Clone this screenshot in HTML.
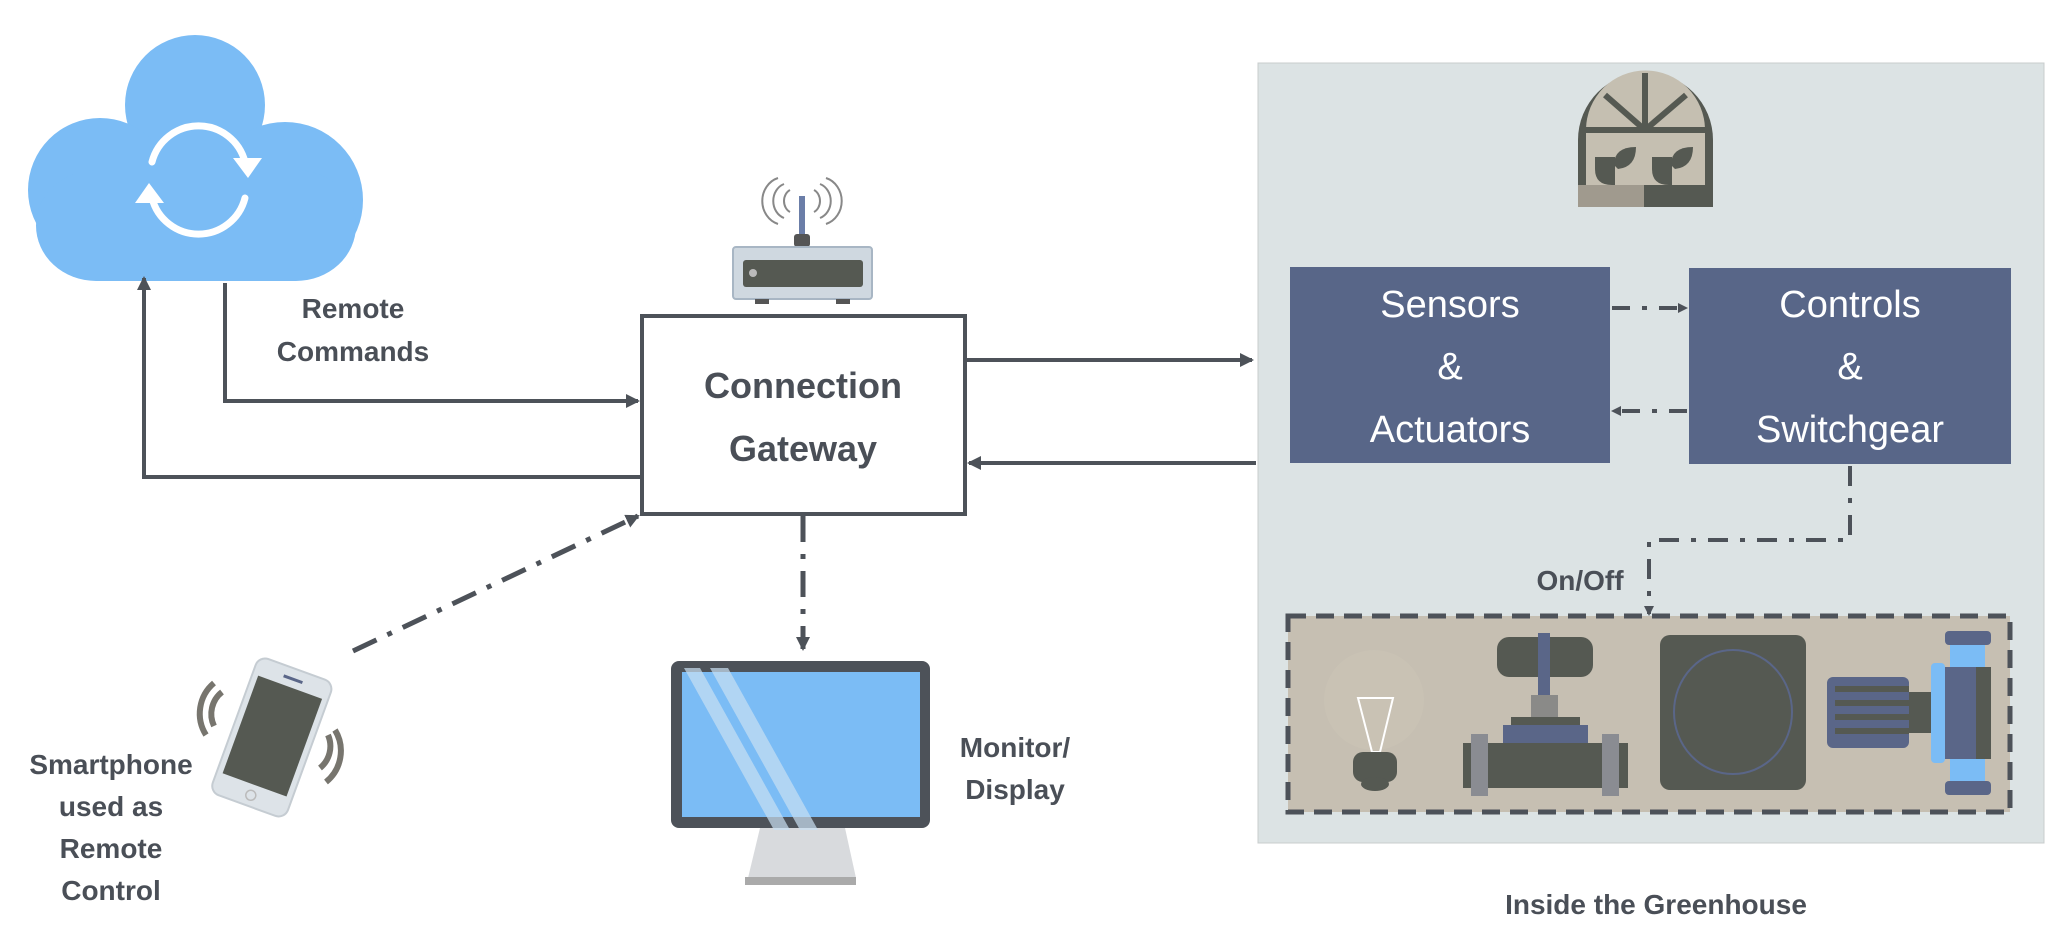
<!DOCTYPE html>
<html><head><meta charset="utf-8"><style>
html,body{margin:0;padding:0;background:#fff;}
svg{display:block}
text{font-family:"Liberation Sans",sans-serif;}
</style></head><body>
<svg width="2048" height="943" viewBox="0 0 2048 943" xmlns="http://www.w3.org/2000/svg">
<defs>
<marker id="ah" markerWidth="10" markerHeight="10" refX="8" refY="5" orient="auto" markerUnits="userSpaceOnUse" viewBox="0 0 10 10">
<path d="M0,0 L10,5 L0,10 z" fill="#4d5259"/></marker>
<marker id="ah2" markerWidth="14" markerHeight="14" refX="12" refY="7" orient="auto" markerUnits="userSpaceOnUse" viewBox="0 0 14 14">
<path d="M0,0 L14,7 L0,14 z" fill="#4d5259"/></marker>
</defs>

<!-- Cloud -->
<g fill="#7bbcf5">
<circle cx="195" cy="105" r="70"/>
<circle cx="100" cy="190" r="72"/>
<circle cx="285" cy="200" r="78"/>
<rect x="100" y="150" width="190" height="131"/>
<rect x="36" y="170" width="320" height="111" rx="60"/>
</g>
<g fill="none" stroke="#fff" stroke-width="7" stroke-linecap="round">
<path d="M152,162 A48,48 0 0 1 245,162"/>
<path d="M245,198 A48,48 0 0 1 152,198"/>
</g>
<path d="M233,158 L262,158 L248,178 z" fill="#fff"/>
<path d="M164,203 L135,203 L149,183 z" fill="#fff"/>

<!-- Router -->
<g>
<rect x="799" y="196" width="6" height="42" fill="#6b7ea8"/>
<rect x="794" y="234" width="16" height="13" rx="3" fill="#555"/>
<rect x="733" y="247" width="139" height="52" rx="3" fill="#cfd8e0" stroke="#a8b6c4" stroke-width="2"/>
<rect x="743" y="260" width="120" height="27" rx="3" fill="#555952"/>
<circle cx="753" cy="273" r="4" fill="#bbb"/>
<rect x="755" y="299" width="14" height="5" fill="#555"/>
<rect x="836" y="299" width="14" height="5" fill="#555"/>
<g fill="none" stroke="#888" stroke-width="2">
<path d="M790,190 a10,12 0 0 0 0,22"/><path d="M784,184 a16,18 0 0 0 0,34"/><path d="M778,178 a22,24 0 0 0 0,46"/>
<path d="M814,190 a10,12 0 0 1 0,22"/><path d="M820,184 a16,18 0 0 1 0,34"/><path d="M826,178 a22,24 0 0 1 0,46"/>
</g>
</g>

<!-- Gateway -->
<rect x="642" y="316" width="323" height="198" fill="#fff" stroke="#4d5259" stroke-width="4"/>
<text x="803" y="398" font-size="36" font-weight="bold" fill="#4a4f57" text-anchor="middle">Connection</text>
<text x="803" y="461" font-size="36" font-weight="bold" fill="#4a4f57" text-anchor="middle">Gateway</text>

<!-- Remote commands -->
<text x="353" y="318" font-size="28" font-weight="bold" fill="#4a4f57" text-anchor="middle">Remote</text>
<text x="353" y="361" font-size="28" font-weight="bold" fill="#4a4f57" text-anchor="middle">Commands</text>
<path d="M225,283 L225,401 L638,401" fill="none" stroke="#4d5259" stroke-width="4" marker-end="url(#ah2)"/>
<path d="M642,477 L144,477 L144,278" fill="none" stroke="#4d5259" stroke-width="4" marker-end="url(#ah2)"/>

<!-- Phone dashed -->
<path d="M353,651 L638,516" fill="none" stroke="#4d5259" stroke-width="5" stroke-dasharray="26,12,5,12" marker-end="url(#ah2)"/>
<!-- Monitor dashed -->
<path d="M803,516 L803,649" fill="none" stroke="#4d5259" stroke-width="5" stroke-dasharray="26,12,5,12" marker-end="url(#ah2)"/>

<!-- Monitor -->
<path d="M760,828 L845,828 L856,878 L748,878 z" fill="#d8dadd"/>
<rect x="745" y="877" width="111" height="8" fill="#aaa"/>
<rect x="671" y="661" width="259" height="167" rx="8" fill="#4d5259"/>
<rect x="682" y="672" width="238" height="145" fill="#7bbcf5"/>
<path d="M684,668 L700,668 L790,830 L774,830 z" fill="#c9dff2" opacity="0.7"/>
<path d="M710,668 L728,668 L818,830 L800,830 z" fill="#c9dff2" opacity="0.7"/>
<text x="1015" y="757" font-size="28" font-weight="bold" fill="#4a4f57" text-anchor="middle">Monitor/</text>
<text x="1015" y="799" font-size="28" font-weight="bold" fill="#4a4f57" text-anchor="middle">Display</text>

<!-- Phone -->
<g transform="rotate(20 272 737)">
<rect x="232" y="665" width="80" height="145" rx="10" fill="#dde3e8" stroke="#c5ccd2" stroke-width="2"/>
<rect x="238" y="684" width="68" height="104" fill="#555952"/>
<rect x="262" y="674" width="20" height="3" fill="#5a6688"/>
<circle cx="272" cy="799" r="5" fill="none" stroke="#bbb" stroke-width="1.5"/>
</g>
<g fill="none" stroke="#77756e" stroke-width="6">
<path d="M214,683 A40,40 0 0 0 206,735"/>
<path d="M222,692 A28,28 0 0 0 214,726"/>
<path d="M335,730 A40,40 0 0 1 326,782"/>
<path d="M328,735 A28,28 0 0 1 320,768"/>
</g>
<text x="111" y="774" font-size="28" font-weight="bold" fill="#4a4f57" text-anchor="middle">Smartphone</text>
<text x="111" y="816" font-size="28" font-weight="bold" fill="#4a4f57" text-anchor="middle">used as</text>
<text x="111" y="858" font-size="28" font-weight="bold" fill="#4a4f57" text-anchor="middle">Remote</text>
<text x="111" y="900" font-size="28" font-weight="bold" fill="#4a4f57" text-anchor="middle">Control</text>

<!-- Greenhouse panel -->
<rect x="1258" y="63" width="786" height="780" fill="#dce3e4" stroke="#c8cccd" stroke-width="1"/>

<!-- Greenhouse icon -->
<g>
<path d="M1578,207 L1578,140 A67,67 0 0 1 1713,140 L1713,207 z" fill="#555952"/>
<path d="M1586,130 A59,59 0 0 1 1705,130 z" fill="#c5bfb1"/>
<rect x="1586" y="130" width="119" height="58" fill="#c5bfb1"/>
<g stroke="#555952" stroke-width="6"><line x1="1645" y1="73" x2="1645" y2="130"/><line x1="1645" y1="130" x2="1605" y2="95"/><line x1="1645" y1="130" x2="1686" y2="95"/><line x1="1580" y1="130" x2="1710" y2="130"/></g>
<rect x="1578" y="185" width="135" height="22" fill="#555952"/>
<rect x="1578" y="185" width="66" height="22" fill="#a09a8e"/>
<path d="M1595,157 h20 v28 h-3 q-17,0 -17,-16 z" fill="#555952"/>
<path d="M1614,165 q0,-18 22,-18 q0,20 -18,22 z" fill="#555952"/>
<path d="M1652,157 h20 v28 h-3 q-17,0 -17,-16 z" fill="#555952"/>
<path d="M1671,165 q0,-18 22,-18 q0,20 -18,22 z" fill="#555952"/>
</g>

<!-- arrows gateway<->panel -->
<path d="M965,360 L1252,360" fill="none" stroke="#4d5259" stroke-width="4" marker-end="url(#ah2)"/>
<path d="M1256,463 L969,463" fill="none" stroke="#4d5259" stroke-width="4" marker-end="url(#ah2)"/>

<!-- Sensors / Controls -->
<rect x="1290" y="267" width="320" height="196" fill="#586688"/>
<rect x="1689" y="268" width="322" height="196" fill="#586688"/>
<g font-size="38" fill="#fff" text-anchor="middle">
<text x="1450" y="317">Sensors</text><text x="1450" y="379">&amp;</text><text x="1450" y="442">Actuators</text>
<text x="1850" y="317">Controls</text><text x="1850" y="379">&amp;</text><text x="1850" y="442">Switchgear</text>
</g>
<path d="M1612,308 L1686,308" fill="none" stroke="#4d5259" stroke-width="4" stroke-dasharray="18,12,5,12" marker-end="url(#ah)"/>
<path d="M1687,411 L1613,411" fill="none" stroke="#4d5259" stroke-width="4" stroke-dasharray="18,12,5,12" marker-end="url(#ah)"/>
<path d="M1850,466 L1850,540 L1649,540 L1649,614" fill="none" stroke="#4d5259" stroke-width="4" stroke-dasharray="20,12,5,12" marker-end="url(#ah)"/>
<text x="1580" y="590" font-size="28" font-weight="bold" fill="#4a4f57" text-anchor="middle">On/Off</text>

<!-- Equipment box -->
<rect x="1288" y="616" width="722" height="196" fill="#c6bfb2" stroke="#4d5259" stroke-width="5" stroke-dasharray="18,10"/>
<!-- bulb -->
<circle cx="1374" cy="700" r="50" fill="#c9c2b4"/>
<path d="M1358,698 L1393,698 L1380,752 L1372,752 z" fill="none" stroke="#fff" stroke-width="2"/>
<rect x="1353" y="752" width="44" height="30" rx="10" fill="#555952"/>
<ellipse cx="1375" cy="784" rx="14" ry="7" fill="#555952"/>
<!-- valve -->
<rect x="1497" y="637" width="96" height="40" rx="12" fill="#555952"/>
<rect x="1538" y="633" width="12" height="62" fill="#5a6688"/>
<rect x="1531" y="695" width="27" height="22" fill="#8a8a88"/>
<rect x="1511" y="717" width="69" height="9" fill="#555952"/>
<rect x="1503" y="725" width="85" height="18" fill="#5a6688"/>
<rect x="1463" y="743" width="165" height="45" fill="#555952"/>
<rect x="1471" y="734" width="17" height="62" fill="#8a8c92"/>
<rect x="1602" y="734" width="17" height="62" fill="#8a8c92"/>
<!-- speaker -->
<rect x="1660" y="635" width="146" height="155" rx="10" fill="#555952"/>
<ellipse cx="1733" cy="712" rx="59" ry="62" fill="none" stroke="#5a6688" stroke-width="2"/>
<!-- motor -->
<rect x="1827" y="677" width="82" height="71" rx="6" fill="#5a6688"/>
<g fill="#555952"><rect x="1835" y="686" width="74" height="6"/><rect x="1835" y="700" width="74" height="6"/><rect x="1835" y="714" width="74" height="6"/><rect x="1835" y="728" width="74" height="6"/></g>
<rect x="1909" y="692" width="22" height="41" fill="#555952"/>
<rect x="1950" y="643" width="35" height="140" fill="#7bbcf5"/>
<rect x="1931" y="663" width="14" height="100" rx="4" fill="#7bbcf5"/>
<rect x="1945" y="667" width="46" height="92" fill="#5a6688"/>
<rect x="1976" y="667" width="15" height="92" fill="#555952"/>
<rect x="1945" y="631" width="46" height="14" rx="4" fill="#5a6688"/>
<rect x="1945" y="781" width="46" height="14" rx="4" fill="#5a6688"/>

<text x="1656" y="914" font-size="28" font-weight="bold" fill="#4a4f57" text-anchor="middle">Inside the Greenhouse</text>
</svg>
</body></html>
